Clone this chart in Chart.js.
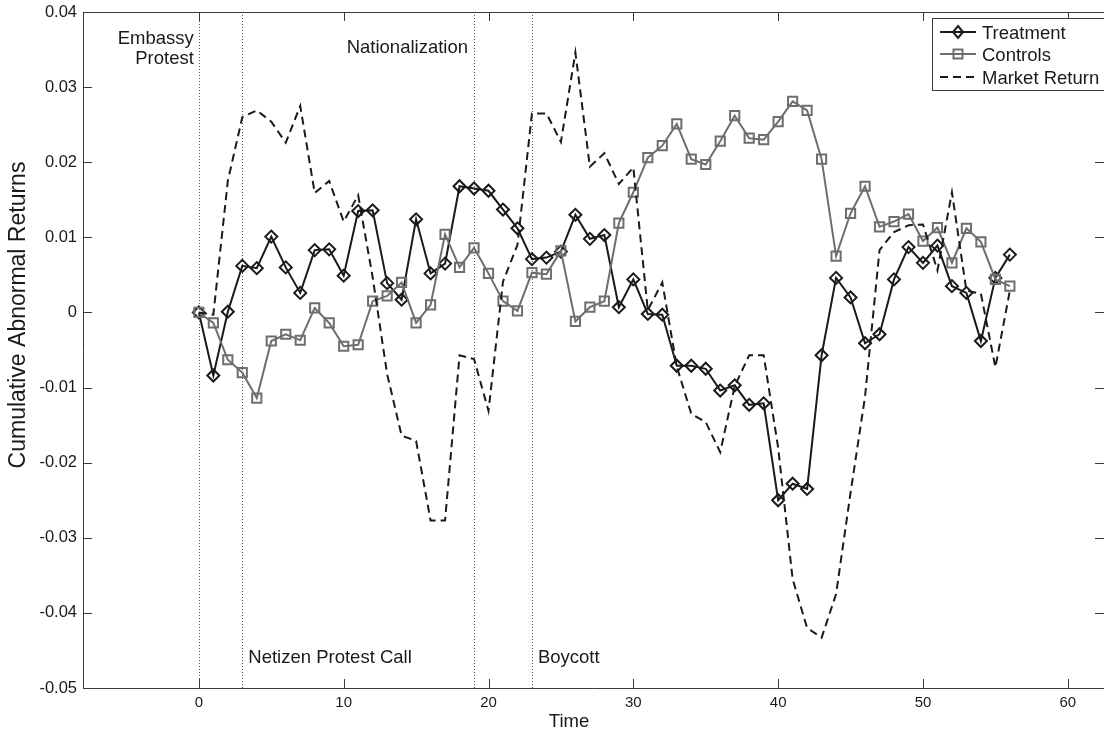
<!DOCTYPE html>
<html>
<head>
<meta charset="utf-8">
<title>Cumulative Abnormal Returns</title>
<script src="https://cdn.jsdelivr.net/npm/chart.js@4.4.1/dist/chart.umd.min.js"></script>
<style>
  html, body { margin: 0; padding: 0; background: #fff; overflow: hidden; }
  #wrap { width: 1104px; height: 732px; }
</style>
</head>
<body>
<div id="wrap"><canvas id="carChart" width="1104" height="732"></canvas></div>
<script>
// event-time index (days around the first event)
const timeSteps = [0, 1, 2, 3, 4, 5, 6, 7, 8, 9, 10, 11, 12, 13, 14, 15, 16, 17, 18, 19,
    20, 21, 22, 23, 24, 25, 26, 27, 28, 29, 30, 31, 32, 33, 34, 35, 36, 37, 38, 39,
    40, 41, 42, 43, 44, 45, 46, 47, 48, 49, 50, 51, 52, 53, 54, 55, 56];

const treatment = [0.0000, -0.0084, 0.0001, 0.0062, 0.0059, 0.0101, 0.0060, 0.0026, 0.0083, 0.0084,
    0.0049, 0.0135, 0.0136, 0.0039, 0.0017, 0.0124, 0.0052, 0.0065, 0.0168, 0.0165,
    0.0162, 0.0137, 0.0112, 0.0071, 0.0073, 0.0081, 0.0130, 0.0098, 0.0103, 0.0007,
    0.0044, -0.0002, -0.0003, -0.0071, -0.0071, -0.0075, -0.0104, -0.0097, -0.0123, -0.0121,
    -0.0250, -0.0228, -0.0235, -0.0057, 0.0046, 0.0020, -0.0041, -0.0029, 0.0044, 0.0087,
    0.0066, 0.0089, 0.0035, 0.0026, -0.0038, 0.0046, 0.0077];

const controls = [0.0000, -0.0014, -0.0063, -0.0080, -0.0114, -0.0038, -0.0029, -0.0037, 0.0006, -0.0014,
    -0.0045, -0.0043, 0.0015, 0.0022, 0.0040, -0.0014, 0.0010, 0.0104, 0.0060, 0.0086,
    0.0052, 0.0015, 0.0002, 0.0053, 0.0051, 0.0082, -0.0012, 0.0007, 0.0015, 0.0119,
    0.0160, 0.0206, 0.0222, 0.0251, 0.0204, 0.0197, 0.0228, 0.0262, 0.0232, 0.0230,
    0.0254, 0.0281, 0.0269, 0.0204, 0.0075, 0.0132, 0.0168, 0.0114, 0.0121, 0.0131,
    0.0095, 0.0113, 0.0066, 0.0112, 0.0094, 0.0044, 0.0035];

const marketReturn = [0.0000, -0.0003, 0.0175, 0.0260, 0.0269, 0.0254, 0.0226, 0.0275, 0.0159, 0.0175,
    0.0121, 0.0156, 0.0047, -0.0082, -0.0164, -0.0171, -0.0277, -0.0277, -0.0057, -0.0062,
    -0.0131, 0.0041, 0.0090, 0.0265, 0.0265, 0.0227, 0.0346, 0.0194, 0.0212, 0.0171,
    0.0193, 0.0003, 0.0040, -0.0072, -0.0135, -0.0146, -0.0186, -0.0098, -0.0057, -0.0057,
    -0.0180, -0.0355, -0.0420, -0.0433, -0.0375, -0.0240, -0.0112, 0.0083, 0.0107, 0.0116,
    0.0117, 0.0056, 0.0160, 0.0029, 0.0025, -0.0073, 0.0029];

const xTicks = [0, 10, 20, 30, 40, 50, 60];
const yTicks = [-0.05, -0.04, -0.03, -0.02, -0.01, 0, 0.01, 0.02, 0.03, 0.04];
const yTickLabels = ['-0.05', '-0.04', '-0.03', '-0.02', '-0.01',
    '0', '0.01', '0.02', '0.03', '0.04'];

// events marked with dotted verticals
const eventTimes = [0, 3, 19, 23];
const eventLabels = [['Embassy', 'Protest'], ['Netizen Protest Call'], ['Nationalization'], ['Boycott']];

const seriesNames = ['Treatment', 'Controls', 'Market Return'];

const FONT = '"Liberation Sans", Arial, Helvetica, sans-serif';
const INK = '#1a1a1a';
const GREY = '#6e6e6e';
const AXIS = '#3a3a3a';

const toPoints = (values) => values.map((v, i) => ({ x: timeSteps[i], y: v }));

const annotationPlugin = {
    id: 'matlabFrame',
    beforeDatasetsDraw(chart) {
        const { ctx, chartArea, scales } = chart;
        ctx.save();
        ctx.strokeStyle = '#555';
        ctx.lineWidth = 1;
        ctx.setLineDash([1, 2]);
        eventTimes.forEach((t) => {
            const x = Math.round(scales.x.getPixelForValue(t)) + 0.5;
            ctx.beginPath();
            ctx.moveTo(x, chartArea.top);
            ctx.lineTo(x, chartArea.bottom);
            ctx.stroke();
        });
        ctx.restore();
    },
    afterDatasetsDraw(chart) {
        const { ctx, chartArea, scales } = chart;
        const { left, right, top, bottom } = chartArea;
        ctx.save();

        // axes box (left, top, bottom) with inward ticks
        ctx.strokeStyle = AXIS;
        ctx.lineWidth = 1;
        ctx.beginPath();
        ctx.moveTo(right, top + 0.5);
        ctx.lineTo(left + 0.5, top + 0.5);
        ctx.lineTo(left + 0.5, bottom + 0.5);
        ctx.lineTo(right, bottom + 0.5);
        ctx.stroke();

        const tickLen = 9;
        ctx.beginPath();
        xTicks.forEach((v) => {
            const x = Math.round(scales.x.getPixelForValue(v)) + 0.5;
            ctx.moveTo(x, bottom);
            ctx.lineTo(x, bottom - tickLen);
            ctx.moveTo(x, top);
            ctx.lineTo(x, top + tickLen);
        });
        yTicks.forEach((v) => {
            const y = Math.round(scales.y.getPixelForValue(v)) + 0.5;
            ctx.moveTo(left, y);
            ctx.lineTo(left + tickLen, y);
            ctx.moveTo(right, y);
            ctx.lineTo(right - tickLen, y);
        });
        ctx.stroke();

        // event labels
        ctx.fillStyle = INK;
        ctx.font = `18.5px ${FONT}`;
        ctx.textBaseline = 'alphabetic';
        const ex = (i) => scales.x.getPixelForValue(eventTimes[i]);
        ctx.textAlign = 'right';
        ctx.fillText(eventLabels[0][0], ex(0) - 5, top + 32);
        ctx.fillText(eventLabels[0][1], ex(0) - 5, top + 52);
        ctx.fillText(eventLabels[2][0], ex(2) - 6, top + 41);
        ctx.textAlign = 'left';
        ctx.fillText(eventLabels[1][0], ex(1) + 6, bottom - 25);
        ctx.fillText(eventLabels[3][0], ex(3) + 6, bottom - 25);

        // axis titles
        ctx.textAlign = 'center';
        ctx.fillText('Time', 569, 727);
        ctx.save();
        ctx.font = `23px ${FONT}`;
        ctx.textBaseline = 'middle';
        ctx.translate(19, 315);
        ctx.rotate(-Math.PI / 2);
        ctx.fillText('Cumulative Abnormal Returns', 0, 0);
        ctx.restore();

        // legend box
        const lx = 932.5, ly = 18.5, lw = 190, lh = 72;
        ctx.fillStyle = '#fff';
        ctx.fillRect(lx, ly, lw, lh);
        ctx.strokeStyle = AXIS;
        ctx.lineWidth = 1;
        ctx.strokeRect(lx, ly, lw, lh);

        const rows = [32, 54, 77];
        const styles = [
            { color: INK, dash: [], marker: 'diamond' },
            { color: GREY, dash: [], marker: 'square' },
            { color: INK, dash: [8, 5], marker: null }
        ];
        rows.forEach((ry, i) => {
            const st = styles[i];
            ctx.strokeStyle = st.color;
            ctx.lineWidth = 2;
            ctx.setLineDash(st.dash);
            ctx.beginPath();
            ctx.moveTo(940, ry);
            ctx.lineTo(976, ry);
            ctx.stroke();
            ctx.setLineDash([]);
            if (st.marker === 'diamond') {
                ctx.beginPath();
                ctx.moveTo(958, ry - 6);
                ctx.lineTo(963, ry);
                ctx.lineTo(958, ry + 6);
                ctx.lineTo(953, ry);
                ctx.closePath();
                ctx.stroke();
            } else if (st.marker === 'square') {
                ctx.strokeRect(953.5, ry - 4.5, 9, 9);
            }
            ctx.fillStyle = INK;
            ctx.textAlign = 'left';
            ctx.fillText(seriesNames[i], 982, ry + 6.5);
        });

        ctx.restore();
    }
};

new Chart(document.getElementById('carChart'), {
    type: 'line',
    data: {
        datasets: [
            {
                label: seriesNames[0],
                data: toPoints(treatment),
                borderColor: INK,
                borderWidth: 2,
                pointStyle: 'rectRot',
                pointRadius: 6,
                pointBorderWidth: 2,
                pointBorderColor: INK,
                pointBackgroundColor: 'rgba(0,0,0,0)',
                tension: 0,
                order: 3
            },
            {
                label: seriesNames[1],
                data: toPoints(controls),
                borderColor: GREY,
                borderWidth: 2,
                pointStyle: 'rect',
                pointRadius: 6.5,
                pointBorderWidth: 2,
                pointBorderColor: GREY,
                pointBackgroundColor: 'rgba(0,0,0,0)',
                tension: 0,
                order: 2
            },
            {
                label: seriesNames[2],
                data: toPoints(marketReturn),
                borderColor: INK,
                borderWidth: 2,
                borderDash: [8, 5],
                pointRadius: 0,
                tension: 0,
                order: 1
            }
        ]
    },
    options: {
        responsive: false,
        animation: false,
        layout: { autoPadding: false, padding: { top: 12, left: 0, right: 0, bottom: 0 } },
        plugins: {
            legend: { display: false },
            tooltip: { enabled: false }
        },
        scales: {
            x: {
                type: 'linear',
                min: -8,
                max: 62.5,
                afterBuildTicks: (scale) => { scale.ticks = xTicks.map((v) => ({ value: v })); },
                afterFit: (scale) => {
                    scale.height = 44;
                    scale.paddingLeft = 0;
                    scale.paddingRight = 0;
                },
                grid: { display: false, drawTicks: false },
                border: { display: false },
                ticks: {
                    padding: 6,
                    maxRotation: 0,
                    color: INK,
                    font: { family: FONT, size: 15 },
                    callback: (value) => String(value)
                }
            },
            y: {
                type: 'linear',
                min: -0.05,
                max: 0.04,
                afterBuildTicks: (scale) => { scale.ticks = yTicks.map((v) => ({ value: v })); },
                afterFit: (scale) => {
                    scale.width = 83;
                    scale.paddingTop = 0;
                    scale.paddingBottom = 0;
                },
                grid: { display: false, drawTicks: false },
                border: { display: false },
                ticks: {
                    padding: 6,
                    color: INK,
                    font: { family: FONT, size: 16.5 },
                    callback: (value, index) => yTickLabels[index]
                }
            }
        }
    },
    plugins: [annotationPlugin]
});
</script>
</body>
</html>
